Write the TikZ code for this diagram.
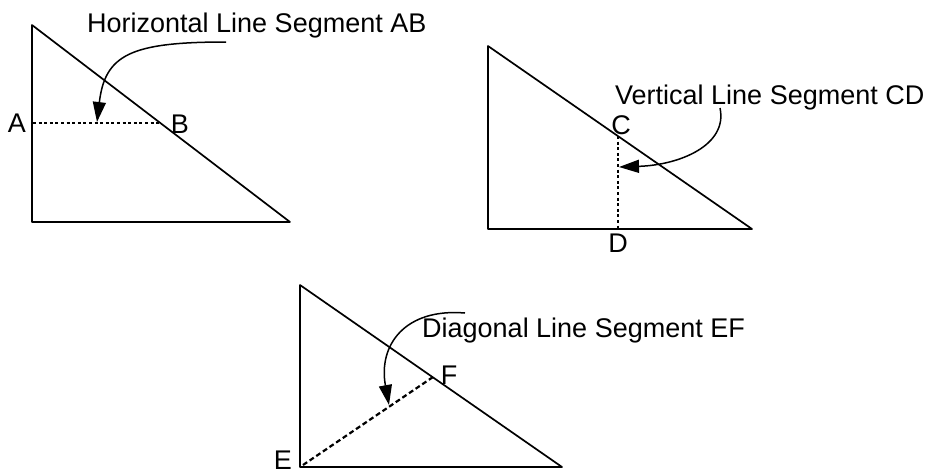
\documentclass[tikz,border=0pt]{standalone}
\usepackage{fontspec}
\setmainfont{Liberation Sans}
\usetikzlibrary{arrows.meta}
\begin{document}
\begin{tikzpicture}[x=1pt,y=-1pt,
  edge/.style={line width=1.7pt,line join=round,line cap=round},
  seg/.style={line width=2.2pt,dash pattern=on 3pt off 2.6pt},
  pointer/.style={line width=1.5pt,-{Triangle[length=20pt,width=13pt]}},
  caption/.style={inner sep=0pt,anchor=base west,font=\fontsize{27}{32}\selectfont},
  lbl/.style={inner sep=0pt,font=\fontsize{27}{32}\selectfont}]
\useasboundingbox (0,0) rectangle (938,474);
% triangle 1
\coordinate (t1a) at (32,25);
\coordinate (t1b) at (32,222);
\coordinate (t1c) at (290,222);
\draw[edge] (t1b) -- (t1a) -- (t1c);
\draw[line width=2.8pt] (t1b) -- (t1c);
\coordinate (A) at (33,123);
\coordinate (B) at (160,123);
\draw[seg] (A) -- (B);
\node[lbl] (lA) at (17,123) {A};
\node[lbl] (lB) at (180,124) {B};
\node[caption] (cap1) at (87,32) {Horizontal Line Segment AB};
\coordinate (s1) at (226,42);
\coordinate (e1) at (97,122);
\draw[pointer] (s1) .. controls (130,42) and (105,55) .. (e1);
% triangle 2
\coordinate (t2a) at (488,46);
\coordinate (t2b) at (488,229);
\coordinate (t2c) at (752,229);
\draw[edge] (t2a) -- (t2b) -- (t2c) -- cycle;
\coordinate (C) at (618,136);
\coordinate (D) at (618,229);
\draw[seg] (C) -- (D);
\node[lbl] (lC) at (621,125) {C};
\node[lbl] (lD) at (618,243) {D};
\node[caption] (cap2) at (615,104) {Vertical Line Segment CD};
\coordinate (s2) at (720,108);
\coordinate (e2) at (619,167);
\draw[pointer] (s2) .. controls (728,145) and (680,165) .. (e2);
% triangle 3
\coordinate (t3a) at (300,285);
\coordinate (t3b) at (300,467);
\coordinate (t3c) at (562,467);
\draw[edge] (t3a) -- (t3b) -- (t3c) -- cycle;
\coordinate (E) at (303,465);
\coordinate (F) at (433,377);
\draw[seg,dash pattern=on 5pt off 3pt] (E) -- (F);
\node[lbl] (lE) at (283,460) {E};
\node[lbl] (lF) at (449,375) {F};
\node[caption] (cap3) at (422,337) {Diagonal Line Segment EF};
\coordinate (s3) at (465,313);
\coordinate (e3) at (389,405);
\draw[pointer] (s3) .. controls (405,308) and (378,345) .. (e3);
\end{tikzpicture}
\end{document}
